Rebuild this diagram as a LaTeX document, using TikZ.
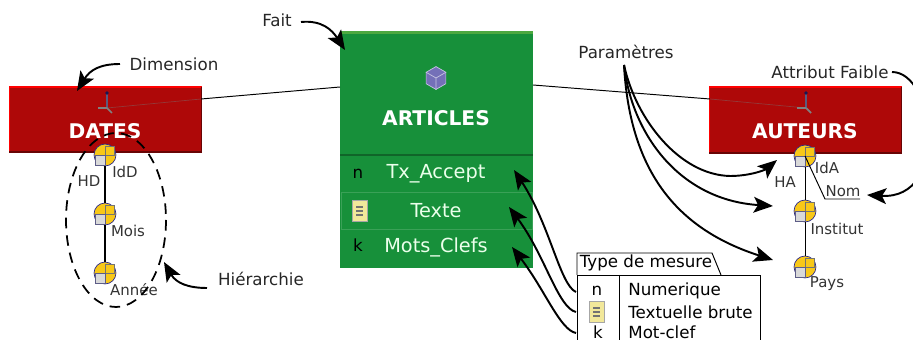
\documentclass[tikz,border=0pt]{standalone}
\usepackage{fontspec}
\setmainfont{DejaVu Sans}
\usetikzlibrary{arrows.meta,calc,shapes.geometric}
\definecolor{dimred}{HTML}{AE0808}
\definecolor{factgreen}{HTML}{17903A}
\definecolor{lightgreen}{HTML}{4CA840}
\definecolor{levelyellow}{HTML}{F8C818}
\definecolor{levelblue}{HTML}{28288C}
\definecolor{noteyellow}{HTML}{F2E89A}
\definecolor{cubeblue}{HTML}{7470B8}
\tikzset{
	lbl/.style={font=\fontsize{9.5}{11}\selectfont,text=black!85,inner sep=0pt},
	small/.style={font=\fontsize{8.5}{10}\selectfont,text=black!80,inner sep=0pt},
	rowtxt/.style={font=\fontsize{11}{13}\selectfont,text=white!92!green,inner sep=0pt},
	title/.style={font=\fontsize{11.5}{13}\selectfont\bfseries,text=white,inner sep=0pt},
	note/.style={-{Stealth[length=11pt,width=9pt,inset=2.5pt]},line width=1.1pt,black},
	thin/.style={line width=0.55pt,black},
	level/.style={circle,draw=levelblue,fill=levelyellow,line width=0.4pt,minimum size=12.5pt,inner sep=0pt},
	notepad/.style={draw=black!35,fill=noteyellow,line width=0.4pt,minimum width=8.5pt,minimum height=12pt,inner sep=0pt},
	dimbox/.style={fill=dimred,minimum width=109pt,minimum height=37pt,inner sep=0pt},
}
% level icon of a hierarchy
\newcommand{\levelnode}[2]{
	\node[level] at (#2)(#1){};
	\draw[black!55,fill=levelyellow,line width=0.5pt] ([shift={(0,0)}]#1.center) rectangle ([shift={(9,-9)}]#1.center);
	\draw[levelblue!60!black!70,fill=black!15,line width=0.5pt] ([shift={(-10,0)}]#1.center) rectangle ([shift={(0,10)}]#1.center);
}
% axes icon of a dimension
\newcommand{\axesmark}[1]{
	\draw[levelblue!50!black!70,line width=0.8pt] (#1) -- ++(0,-15);
	\fill[levelblue!60!black] ($(#1)+(0,-15)$) circle (1.1pt);
	\draw[black!50,line width=1pt] (#1) -- ++(-9,0);
	\draw[black!50,line width=1pt] (#1) -- ++(5,5);
}
% small lines of a note
\newcommand{\notelines}[1]{
	\foreach \i in {-4,0,4}
		\draw[black!55,line width=0.6pt] ([shift={(-4,\i)}]#1.center) -- ([shift={(3,\i)}]#1.center);
}
% red box edges
\newcommand{\dimedges}[1]{
	\draw[red,line width=1pt] (#1.south west) -- (#1.north west) -- (#1.north east);
	\draw[dimred!60!black,line width=1pt] (#1.south west) -- (#1.south east) -- (#1.north east);
}
\begin{document}
\begin{tikzpicture}[x=0.02cm,y=-0.02cm]
	\useasboundingbox (0,0) rectangle (913,340);

	% boxes
	\node[dimbox] at (105.5,119.5)(dates){};
	\node[dimbox] at (805.5,120)(auteurs){};
	\dimedges{dates}
	\dimedges{auteurs}

	\node[fill=factgreen,minimum width=110pt,minimum height=134pt,inner sep=0pt] at (436.5,150.5)(articles){};
	\draw[lightgreen,line width=1.4pt] (articles.north west) -- (articles.north east);
	\draw[factgreen!70!black,line width=0.6pt] (340,155) -- (533,155);
	\draw[white!15!factgreen,line width=0.5pt] (341,192) rectangle (532,229);
	\node[regular polygon,regular polygon sides=6,fill=cubeblue,draw=white!60!cubeblue,line width=0.4pt,minimum size=13pt,inner sep=0pt,rotate=30] at (436,78)(cube){};
	\draw[white!60!cubeblue,line width=0.4pt] (cube.center) -- (cube.corner 2) (cube.center) -- (cube.corner 4) (cube.center) -- (cube.corner 6);

	% links
	\coordinate (datesaxes) at (107,108);
	\coordinate (auteursaxes) at (806,108);
	\coordinate (datesedge) at (201,99);
	\coordinate (auteursedge) at (710,99);
	\draw[thin] (340,87) -- (datesedge);
	\draw[black!30!dimred!80!white,line width=0.4pt] (datesedge) -- (datesaxes);
	\draw[thin] (533,85) -- (auteursedge);
	\draw[black!30!dimred!80!white,line width=0.4pt] (auteursedge) -- (auteursaxes);
	\axesmark{datesaxes}
	\axesmark{auteursaxes}

	\node[title] at (105,131)(datest){DATES};
	\node[title] at (805,131)(auteurst){AUTEURS};
	\node[title] at (436,118)(articlest){ARTICLES};

	% measures
	\node[rowtxt] at (436,174)(tx){Tx\_Accept};
	\node[rowtxt] at (436,211)(texte){Texte};
	\node[rowtxt] at (436,247)(mots){Mots\_Clefs};
	\node[lbl,text=black] at (358,174){n};
	\node[notepad] at (360,211)(noterow){};
	\notelines{noterow}
	\node[lbl,text=black] at (358,245){k};

	% date hierarchy
	\levelnode{idd}{105,155}
	\levelnode{mois}{105,214}
	\levelnode{annee}{105,273}
	\draw[line width=1pt,black] (idd.south) -- (mois.north);
	\draw[line width=1pt,black] (mois.south) -- (annee.north);
	\node[small] at (125,172){IdD};
	\node[small] at (89,181){HD};
	\node[small] at (128,231){Mois};
	\node[small] at (134,290){Année};
	\draw[dash pattern=on 6pt off 4pt,line width=1pt,black] (116,220) ellipse (50 and 87);

	% author hierarchy
	\levelnode{ida}{805,156}
	\levelnode{institut}{805,211}
	\levelnode{pays}{805,267}
	\draw[thin] (ida.south) -- (institut.north);
	\draw[thin] (institut.south) -- (pays.north);
	\node[small] at (827,168){IdA};
	\node[small] at (785,182){HA};
	\node[small] at (843,191)(nom){Nom};
	\node[small] at (837,229){Institut};
	\node[small] at (827,284){Pays};
	\coordinate (nomleft) at (825,199);
	\coordinate (nomright) at (860,199);
	\draw[thin] (ida.center) -- (nomleft) -- (nomright);

	% type box
	\node[lbl,text=black] at (646,263)(typetab){Type de mesure};
	\draw[thin] (577,275) -- (577,253) -- (712,253) -- (721,275);
	\draw[thin] (577,340) -- (577,275) -- (760,275) -- (760,340);
	\draw[thin] (619,275) -- (619,340);
	\node[lbl,text=black] at (597,291)(typen){n};
	\node[notepad] at (597,312)(typenote){};
	\notelines{typenote}
	\node[lbl,text=black] at (598,332)(typek){k};
	\node[lbl,text=black,anchor=west] at (628,291){Numerique};
	\node[lbl,text=black,anchor=west] at (628,312){Textuelle brute};
	\node[lbl,text=black,anchor=west] at (628,332){Mot-clef};

	% annotations
	\node[lbl] at (174,64)(dimension){Dimension};
	\node[lbl] at (277,20)(fait){Fait};
	\node[lbl] at (261,279)(hier){Hiérarchie};
	\node[lbl] at (626,52)(param){Paramètres};
	\node[lbl] at (830,72)(attribut){Attribut Faible};
	\coordinate (dimtip) at (77,91);
	\coordinate (faittip) at (345,50);
	\coordinate (hiertip) at (164,262);
	\coordinate (pstart) at (624,65);
	\coordinate (ptipa) at (777,160);
	\coordinate (ptipb) at (773,206);
	\coordinate (ptipc) at (773,260);
	\coordinate (nomtip) at (867,195);
	\coordinate (txtip) at (514,170);
	\coordinate (textetip) at (509,207);
	\coordinate (motstip) at (512,247);
	\coordinate (typea) at (576,292);
	\coordinate (typeb) at (576,312);
	\coordinate (typec) at (576,333);
	\draw[note] (120,64) .. controls (100,64) and (90,70) .. (dimtip);
	\draw[note] (301,22) .. controls (322,20) and (332,30) .. (faittip);
	\draw[note] (207,288) .. controls (188,288) and (176,283) .. (hiertip);
	\draw[note] (pstart) .. controls (636,120) and (680,175) .. (730,176) .. controls (750,176) and (765,170) .. (ptipa);
	\draw[note] (pstart) .. controls (632,135) and (680,200) .. (ptipb);
	\draw[note] (pstart) .. controls (630,175) and (680,230) .. (ptipc);
	\draw[note] (892,72) .. controls (935,72) and (950,200) .. (nomtip);
	\draw[note] (typea) .. controls (560,285) and (550,225) .. (txtip);
	\draw[note] (typeb) .. controls (558,308) and (545,255) .. (textetip);
	\draw[note] (typec) .. controls (560,330) and (545,290) .. (motstip);
\end{tikzpicture}
\end{document}
